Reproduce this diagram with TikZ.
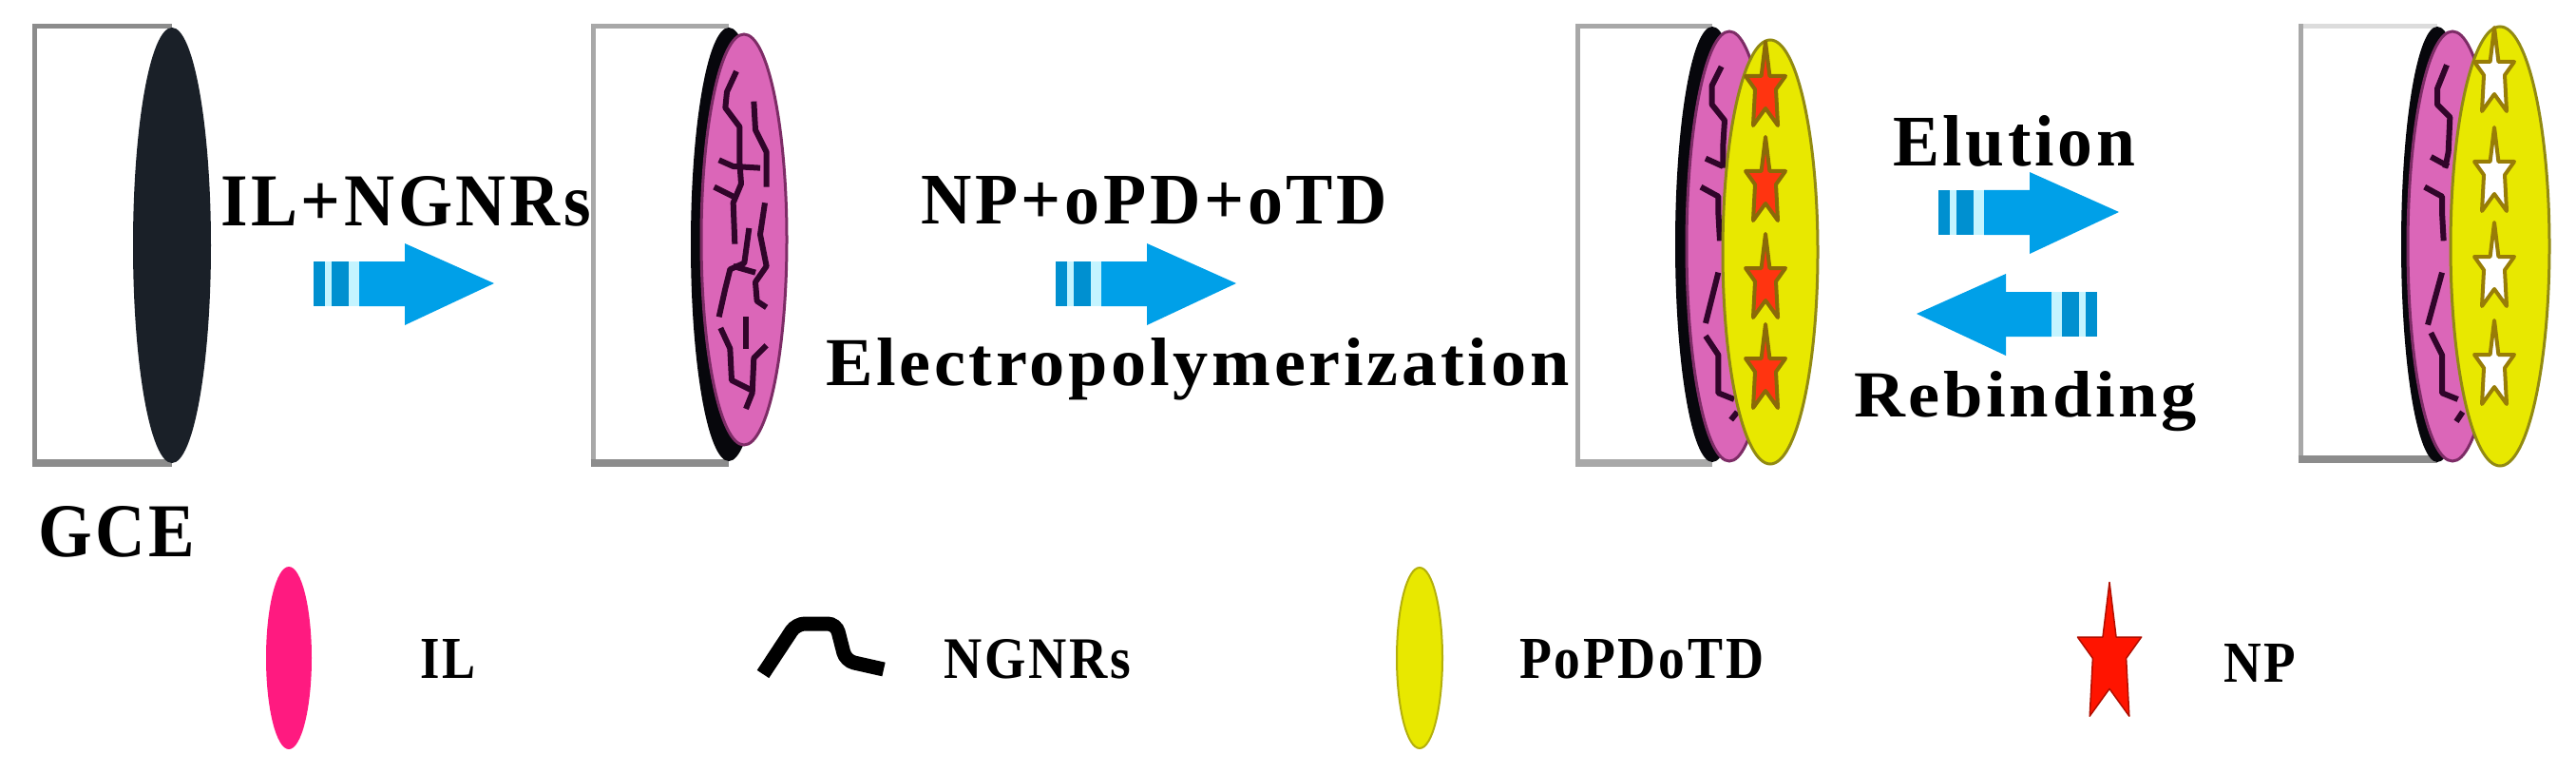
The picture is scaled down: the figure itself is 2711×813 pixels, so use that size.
\documentclass[tikz,border=0pt]{standalone}
\usepackage{fontspec}
\usepackage{graphicx}
\setmainfont{Liberation Serif}
\definecolor{cbox}{HTML}{8C8C8C}
\definecolor{cboxl}{HTML}{A8A8A8}
\definecolor{cboxt}{HTML}{DCDCDC}
\definecolor{cblack}{HTML}{07070C}
\definecolor{cgce}{HTML}{1A2028}
\definecolor{cpink}{HTML}{DB66B8}
\definecolor{cpinkd}{HTML}{7D2C66}
\definecolor{cyel}{HTML}{E8E800}
\definecolor{cyeld}{HTML}{928A12}
\definecolor{cred}{HTML}{FF3410}
\definecolor{cstar}{HTML}{FF1400}
\definecolor{cstard}{HTML}{8A6A08}
\definecolor{cblue}{HTML}{00A0E8}
\definecolor{cblued}{HTML}{0090D0}
\definecolor{cgap}{HTML}{C4F4FF}
\definecolor{cwire}{HTML}{30052A}
\definecolor{clegp}{HTML}{FF1A80}
\newcommand{\fitlabel}[3]{\resizebox{#1pt}{#2pt}{\bfseries\addfontfeatures{LetterSpace=5}#3}}
\newcommand{\starshape}{(0,-36) -- (4.4,0) -- (21,0) -- (11,14) -- (13,52) -- (0,34) -- (-13,52) -- (-11,14) -- (-21,0) -- (-4.4,0) -- cycle}
\newcommand{\blockarrow}[2]{%
 \begin{scope}[shift={(#1)},xscale=#2]
  \fill[cblue] (48,-23) -- (96,-23) -- (96,-42) -- (190,0) -- (96,44) -- (96,24) -- (48,24) -- cycle;
  \fill[cblued] (0,-23) rectangle (12,24);
  \fill[cblued] (19,-23) rectangle (37,24);
  \fill[cgap] (12,-23) rectangle (19,24);
  \fill[cgap] (37,-23) rectangle (48,24);
 \end{scope}}
\tikzset{
  x=1pt,y=-1pt,
  boxline/.style={draw=#1,line width=5pt,line join=miter},
  boxbase/.style={draw=#1,line width=8pt},
  txt/.style={inner sep=0pt,outer sep=0pt,anchor=base west},
  blackdisk/.style={fill=cblack},
  pinkdisk/.style={fill=cpink,draw=cpinkd,line width=3pt},
  yeldisk/.style={fill=cyel,draw=cyeld,line width=3pt},
  wire/.style={draw=cwire,line width=6pt,line join=round},
  redstar/.style={fill=cred,draw=cstard,line width=4pt,line join=round},
  whitestar/.style={fill=white,draw=cstard!85!cyel,line width=4pt,line join=round},
}
\begin{document}
\begin{tikzpicture}
\useasboundingbox (0,0) rectangle (2711,813);
\fill[white] (0,0) rectangle (2711,813);

% electrode 1
\draw[boxline=cbox] (181,28) -- (36,28) -- (36,487);
\draw[boxbase=cbox] (33.5,487) -- (181,487);
\fill[cgce] (181,258) ellipse [x radius=41, y radius=229];

% electrode 2
\draw[boxline=cboxl] (767,28) -- (624,28) -- (624,487);
\draw[boxbase=cbox] (621.5,487) -- (767,487);
\fill[blackdisk] (767,257) ellipse [x radius=40, y radius=228];
\filldraw[pinkdisk] (783,252) ellipse [x radius=45, y radius=216];
\begin{scope}[shift={(700,20)},x=0.3333pt,y=-0.3333pt]
 \draw[wire] (225,165) -- (195,230) -- (190,280) -- (235,340) -- (235,450) -- (240,520) -- (215,580) -- (220,710);
 \draw[wire] (280,260) -- (285,350) -- (320,420) -- (320,530);
 \draw[wire] (170,445) -- (215,465) -- (300,470);
 \draw[wire] (155,530) -- (215,560);
 \draw[wire] (315,580) -- (300,680) -- (320,780) -- (285,830) -- (290,890) -- (320,910);
 \draw[wire] (265,660) -- (250,770) -- (205,790) -- (190,850) -- (170,940);
 \draw[wire] (215,780) -- (285,800);
 \draw[wire] (175,975) -- (205,1040) -- (210,1140) -- (270,1170);
 \draw[wire] (255,940) -- (255,1040);
 \draw[wire] (320,1030) -- (280,1070) -- (275,1180) -- (255,1230);
\end{scope}

% electrode 3
\draw[boxline=cboxl] (1802,28) -- (1660,28) -- (1660,487);
\draw[boxbase=cboxl] (1657.5,487) -- (1802,487);
\fill[blackdisk] (1802,257) ellipse [x radius=39, y radius=229];
\filldraw[pinkdisk] (1820,259) ellipse [x radius=45, y radius=226];
\begin{scope}[shift={(1750,20)},x=0.3333pt,y=-0.3333pt]
 \draw[wire] (185,150) -- (155,210) -- (155,270) -- (195,320) -- (190,400) -- (190,470);
 \draw[wire] (135,440) -- (190,465);
 \draw[wire] (120,530) -- (175,560) -- (175,610) -- (180,700);
 \draw[wire] (175,800) -- (135,960);
 \draw[wire] (135,1000) -- (175,1060) -- (175,1180) -- (225,1200);
 \draw[wire] (235,1240) -- (215,1265);
\end{scope}
\filldraw[yeldisk] (1863,265) ellipse [x radius=50, y radius=223];
\foreach \sy in {80,180,282,377} {
  \filldraw[redstar,shift={(1858,\sy)}] \starshape;
}

% electrode 4
\draw[boxline=cboxt] (2565,28) -- (2421,28);
\draw[boxline=cboxl] (2421,25.5) -- (2421,484);
\draw[boxbase=cbox] (2418.5,483) -- (2565,483);
\fill[blackdisk] (2565,257) ellipse [x radius=38, y radius=229];
\filldraw[pinkdisk] (2581,259) ellipse [x radius=47, y radius=226];
\begin{scope}[shift={(2510,20)},x=0.3333pt,y=-0.3333pt]
 \draw[wire] (195,145) -- (165,220) -- (165,270) -- (205,310) -- (200,420) -- (190,470);
 \draw[wire] (145,435) -- (200,465);
 \draw[wire] (125,530) -- (180,560) -- (180,610) -- (185,700);
 \draw[wire] (180,800) -- (135,965);
 \draw[wire] (145,990) -- (180,1060) -- (180,1180) -- (230,1200);
 \draw[wire] (245,1240) -- (225,1270);
\end{scope}
\filldraw[yeldisk] (2631,259) ellipse [x radius=52, y radius=231];
\foreach \sy in {65,170,270,373} {
  \filldraw[whitestar,shift={(2625,\sy)}] \starshape;
}

% process arrows
\blockarrow{330,298}{1}
\blockarrow{1111,298}{1}
\blockarrow{2040,223}{1}
\blockarrow{2207,330}{-1}

% process labels
\node[txt] (lab1) at (232,237) {\fitlabel{390}{52}{IL+NGNRs}};
\node[txt] (lab2) at (969,235) {\fitlabel{491}{50}{NP+oPD+oTD}};
\node[txt] (lab3) at (869,405) {\fitlabel{782}{50}{Electropolymerization}};
\node[txt] (lab4) at (1992,175) {\fitlabel{255}{53}{Elution}};
\node[txt] (lab5) at (1951,438) {\fitlabel{361}{48}{Rebinding}};
\node[txt] (lab6) at (40,585) {\fitlabel{165}{53}{GCE}};

% legend
\fill[clegp] (304,692) ellipse [x radius=24, y radius=96];
\node[txt] (leg1) at (442,713) {\fitlabel{58}{41}{IL}};
\draw[black,line width=15pt,rounded corners=9pt] (803,709) -- (838,656) -- (880,656) -- (890,695) -- (930,704);
\node[txt] (leg2) at (993,713) {\fitlabel{197}{41}{NGNRs}};
\filldraw[fill=cyel,draw=cyeld!60!cyel,line width=2pt] (1494,692) ellipse [x radius=24, y radius=95];
\node[txt] (leg3) at (1599,713) {\fitlabel{257}{41}{PoPDoTD}};
\filldraw[fill=cstar,draw=cstar!70!black,line width=1.5pt,line join=round,shift={(2220,670)},scale=1.6] \starshape;
\node[txt] (leg4) at (2340,717) {\fitlabel{76}{40}{NP}};
\end{tikzpicture}
\end{document}
